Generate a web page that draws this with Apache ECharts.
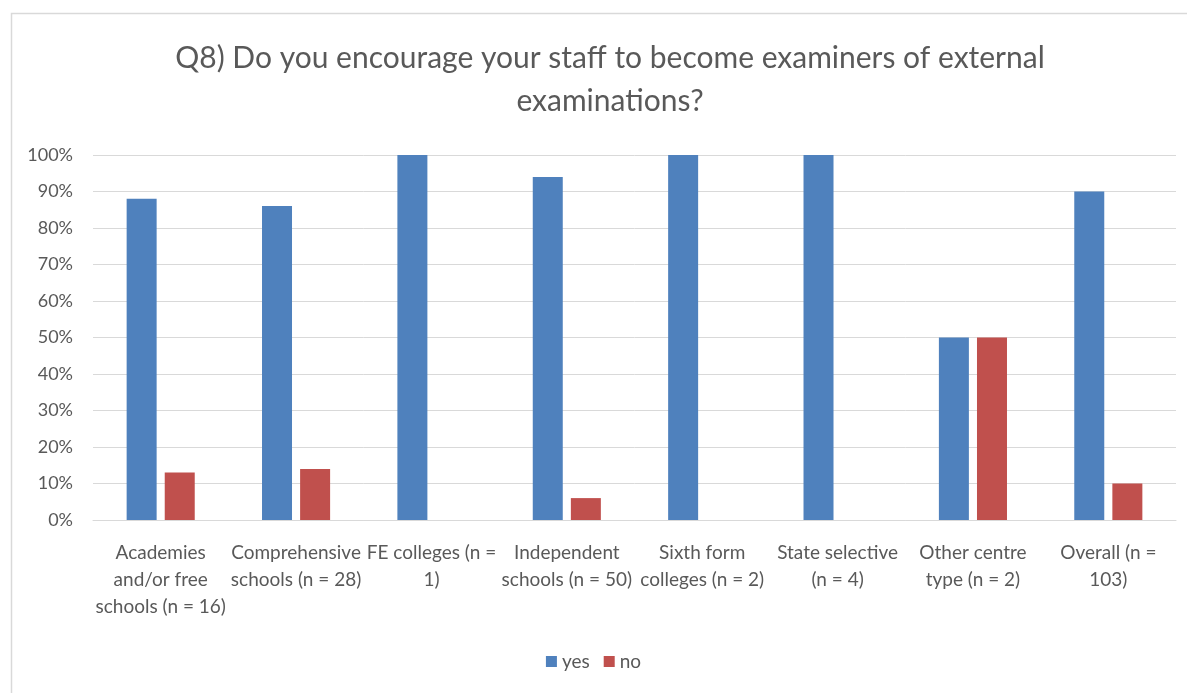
<!DOCTYPE html>
<html>
<head>
<meta charset="utf-8">
<script src="https://cdn.jsdelivr.net/npm/echarts@6/dist/echarts.min.js"></script>
<style>
  html, body { margin: 0; padding: 0; background: #fff; }
  #chart { width: 1187px; height: 693px; }
</style>
</head>
<body>
<div id="chart"></div>
<script>
// Centre types (with sample sizes), wrapped as they appear under the axis
const categories = [
  'Academies\nand/or free\nschools (n = 16)',
  'Comprehensive\nschools (n = 28)',
  'FE colleges (n =\n1)',
  'Independent\nschools (n = 50)',
  'Sixth form\ncolleges (n = 2)',
  'State selective\n(n = 4)',
  'Other centre\ntype (n = 2)',
  'Overall (n =\n103)'
];
// Share of responses (%)
const yesValues = [88, 86, 100, 94, 100, 100, 50, 90];
const noValues  = [13, 14, 0, 6, 0, 0, 50, 10];
const seriesNames = ['yes', 'no'];
const titleText = 'Q8) Do you encourage your staff to become examiners of external\nexaminations?';

const FONT = 'Lato, "Open Sans", sans-serif';
const TEXT = '#595959';

const chart = echarts.init(document.getElementById('chart'));
chart.setOption({
  animation: false,
  backgroundColor: '#fff',
  graphic: [{
    type: 'rect',
    shape: { x: 11.5, y: 13.5, width: 1200, height: 700 },
    style: { fill: 'none', stroke: '#d9d9d9', lineWidth: 1.5 },
    silent: true
  }],
  title: {
    text: titleText,
    left: 605,
    top: 32,
    textAlign: 'center',
    textStyle: { fontFamily: FONT, fontSize: 30, fontWeight: 'normal', color: TEXT, lineHeight: 43 }
  },
  legend: {
    data: seriesNames,
    bottom: 17,
    left: 'center',
    itemWidth: 11,
    itemHeight: 11,
    itemGap: 14,
    icon: 'rect',
    textStyle: { fontFamily: FONT, fontSize: 19, color: TEXT }
  },
  grid: { left: 93, right: 11, top: 155, bottom: 173, containLabel: false },
  xAxis: {
    type: 'category',
    data: categories,
    axisLine: { lineStyle: { color: '#d9d9d9', width: 1 } },
    axisTick: { show: false },
    axisLabel: {
      interval: 0,
      margin: 19,
      fontFamily: FONT,
      fontSize: 19,
      color: TEXT,
      lineHeight: 27,
      align: 'center'
    }
  },
  yAxis: {
    type: 'value',
    min: 0,
    max: 100,
    interval: 10,
    axisLine: { show: false },
    axisTick: { show: false },
    splitLine: { lineStyle: { color: '#d9d9d9', width: 1 } },
    axisLabel: {
      formatter: '{value}%',
      margin: 20,
      fontFamily: FONT,
      fontSize: 18,
      color: TEXT
    }
  },
  series: [
    {
      name: seriesNames[0],
      type: 'bar',
      data: yesValues,
      barWidth: 30,
      barGap: '27%',
      itemStyle: { color: '#4F81BD' }
    },
    {
      name: seriesNames[1],
      type: 'bar',
      data: noValues,
      barWidth: 30,
      itemStyle: { color: '#C0504D' }
    }
  ]
});
</script>
</body>
</html>
